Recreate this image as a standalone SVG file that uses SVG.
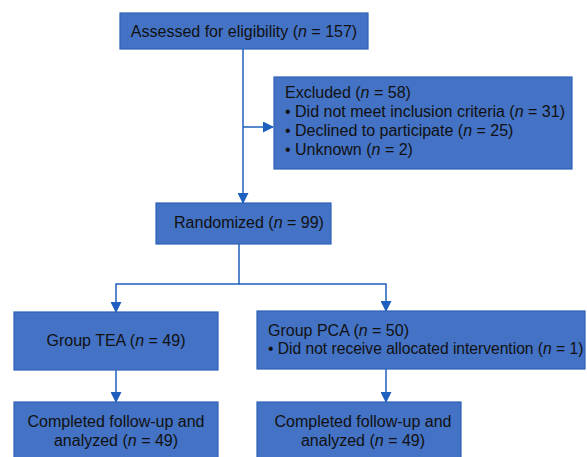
<svg xmlns="http://www.w3.org/2000/svg" width="587" height="457" viewBox="0 0 587 457">
<style>
.box{fill:#4472c4;stroke:#2e62b8;stroke-width:1.2}
.t{font-family:"Liberation Sans",Arial,sans-serif;font-size:16px;fill:#111}
.c{fill:none;stroke:#1f5fbf;stroke-width:1.5}
</style>
<defs>
<marker id="ah" markerWidth="11" markerHeight="11" refX="10" refY="5.5" orient="auto" markerUnits="userSpaceOnUse">
<path d="M0,0 L11,5.5 L0,11 Z" fill="#1f5fbf"/>
</marker>
</defs>
<rect width="587" height="457" fill="#fff"/>
<g id="connectors">
<path class="c" d="M243,49 V203" marker-end="url(#ah)"/>
<path class="c" d="M243,127 H273" marker-end="url(#ah)"/>
<path class="c" d="M239,244 V284 H116 V312" marker-end="url(#ah)"/>
<path class="c" d="M239,284 H386 V311" marker-end="url(#ah)"/>
<path class="c" d="M116,370 V402" marker-end="url(#ah)"/>
<path class="c" d="M386,369 V402" marker-end="url(#ah)"/>
</g>
<g id="assessed">
<rect class="box" x="120" y="13" width="248" height="36"/>
<text class="t" x="244" y="37" text-anchor="middle">Assessed for eligibility (<tspan font-style="italic">n</tspan> = 157)</text>
</g>
<g id="excluded">
<rect class="box" x="274" y="77" width="298" height="92"/>
<text class="t" x="285" y="98">Excluded (<tspan font-style="italic">n</tspan> = 58)</text>
<text class="t" x="285" y="117">• Did not meet inclusion criteria (<tspan font-style="italic">n</tspan> = 31)</text>
<text class="t" x="285" y="136">• Declined to participate (<tspan font-style="italic">n</tspan> = 25)</text>
<text class="t" x="285" y="155">• Unknown (<tspan font-style="italic">n</tspan> = 2)</text>
</g>
<g id="randomized">
<rect class="box" x="156" y="203" width="175" height="41"/>
<text class="t" x="249" y="228" text-anchor="middle">Randomized (<tspan font-style="italic">n</tspan> = 99)</text>
</g>
<g id="tea">
<rect class="box" x="14" y="312" width="204" height="58"/>
<text class="t" x="116" y="346" text-anchor="middle">Group TEA (<tspan font-style="italic">n</tspan> = 49)</text>
</g>
<g id="pca">
<rect class="box" x="257" y="311" width="328" height="58"/>
<text class="t" x="268" y="336">Group PCA (<tspan font-style="italic">n</tspan> = 50)</text>
<text class="t" x="268" y="354" style="font-size:15.6px">• Did not receive allocated intervention (<tspan font-style="italic">n</tspan> = 1)</text>
</g>
<g id="tea-done">
<rect class="box" x="14" y="402" width="204" height="60"/>
<text class="t" x="116" y="427" text-anchor="middle">Completed follow-up and</text>
<text class="t" x="116" y="446" text-anchor="middle">analyzed (<tspan font-style="italic">n</tspan> = 49)</text>
</g>
<g id="pca-done">
<rect class="box" x="257" y="402" width="204" height="60"/>
<text class="t" x="363" y="427" text-anchor="middle">Completed follow-up and</text>
<text class="t" x="363" y="446" text-anchor="middle">analyzed (<tspan font-style="italic">n</tspan> = 49)</text>
</g>
</svg>
